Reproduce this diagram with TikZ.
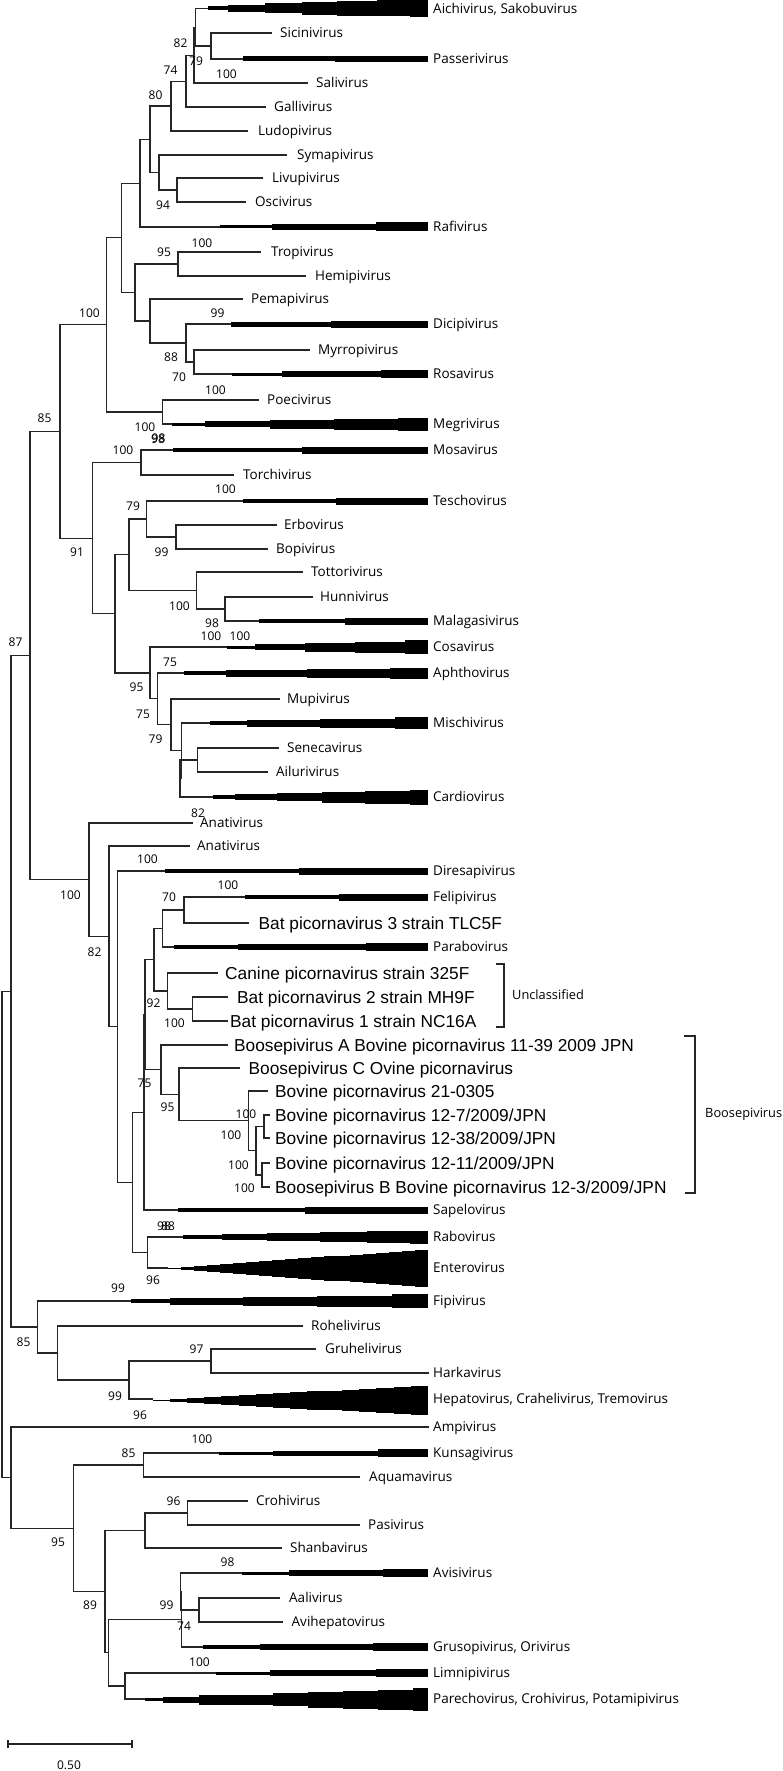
\documentclass[tikz,border=0pt]{standalone}
\usepackage{fontspec}
\usetikzlibrary{calc}
\newfontfamily\osans{Open Sans}
\newfontfamily\lsans{Liberation Sans}
\newcommand\labf{\osans\fontsize{13.5}{16}\selectfont}
\newcommand\numf{\osans\fontsize{12}{14}\selectfont}
\newcommand\bigf{\lsans\fontsize{17.3}{20}\selectfont}
\newcommand\grpf{\osans\fontsize{12.8}{15}\selectfont}
\begin{document}
\begin{tikzpicture}[x=1pt,y=-1pt,
  br/.style={line width=1.1pt,draw=black!85},
  lab/.style={font=\labf,inner sep=0pt,anchor=base west,yshift=-4.8pt},
  biglab/.style={font=\bigf,inner sep=0pt,anchor=base west,yshift=-6.2pt},
  grp/.style={font=\grpf,inner sep=0pt,anchor=west},
  bs/.style={font=\numf,inner sep=0pt},
  cl/.style={fill=black}]
\useasboundingbox[fill=white] (0,0) rectangle (782,1771);
\newcommand\mkleaf[5]{\coordinate (#1) at (#2,#3); \node[lab] (#1t) at (#4,#3) {#5};}
\newcommand\mkbig[5]{\coordinate (#1) at (#2,#3); \node[biglab] (#1t) at (#4,#3) {#5};}
\newcommand\mknode[4]{\path let \p1=(#3), \p2=(#4) in coordinate (#1) at ({#2pt},{0.5*\y1+0.5*\y2});
  \draw[br] (#1) |- (#3); \draw[br] (#1) |- (#4);}
\newcommand\bars[2]{\foreach \a/\b/\h in {#2} {\fill[cl] (\a,#1-\h) rectangle (\b+0.3,#1+\h);}}
\newcommand\stairs[5]{\foreach \i in {1,...,#5} {\fill[cl] ({#2+(\i-1)*(#3-#2)/#5},{#1-\i*#4/#5}) rectangle ({#2+\i*(#3-#2)/#5+0.3},{#1+\i*#4/#5});}}
% ---------- leaves ----------
\mkleaf{aichi}{208}{8.5}{433}{Aichivirus, Sakobuvirus}
\mkleaf{sicini}{272}{33}{280}{Sicinivirus}
\mkleaf{passeri}{243}{59}{433}{Passerivirus}
\mkleaf{sali}{308}{83}{316}{Salivirus}
\mkleaf{galli}{266}{107}{274}{Gallivirus}
\mkleaf{ludopi}{248}{131}{258}{Ludopivirus}
\mkleaf{syma}{287}{155}{297}{Symapivirus}
\mkleaf{livupi}{263}{178}{272}{Livupivirus}
\mkleaf{osci}{246}{202}{255}{Oscivirus}
\mkleaf{rafi}{220}{227}{433}{Rafivirus}
\mkleaf{tropi}{261}{252}{271}{Tropivirus}
\mkleaf{hemipi}{306}{276}{315}{Hemipivirus}
\mkleaf{pemapi}{243}{299}{251}{Pemapivirus}
\mkleaf{dicipi}{231}{324}{433}{Dicipivirus}
\mkleaf{myrro}{310}{350}{318}{Myrropivirus}
\mkleaf{rosa}{232}{374}{433}{Rosavirus}
\mkleaf{poeci}{258.5}{400}{267}{Poecivirus}
\mkleaf{megri}{172}{424}{433}{Megrivirus}
\mkleaf{mosa}{172.5}{450}{433}{Mosavirus}
\mkleaf{torchi}{234}{475}{243}{Torchivirus}
\mkleaf{tescho}{242.5}{501}{433}{Teschovirus}
\mkleaf{erbo}{276.5}{525}{284}{Erbovirus}
\mkleaf{bopi}{267.5}{549}{276}{Bopivirus}
\mkleaf{tottori}{302.5}{572}{311}{Tottorivirus}
\mkleaf{hunni}{312.5}{597}{320}{Hunnivirus}
\mkleaf{malaga}{258.5}{621}{433}{Malagasivirus}
\mkleaf{cosa}{227}{647}{433}{Cosavirus}
\mkleaf{aphtho}{184}{673}{433}{Aphthovirus}
\mkleaf{mupi}{280}{699}{287}{Mupivirus}
\mkleaf{mischi}{210}{723}{433}{Mischivirus}
\mkleaf{seneca}{278.5}{748}{287}{Senecavirus}
\mkleaf{ailuri}{267.5}{772}{276}{Ailurivirus}
\mkleaf{cardio}{212.5}{797}{433}{Cardiovirus}
\mkleaf{anatiA}{192.5}{823}{200}{Anativirus}
\mkleaf{anatiB}{190}{846}{197}{Anativirus}
\mkleaf{diresapi}{165}{871}{433}{Diresapivirus}
\mkleaf{felipi}{245}{897}{433}{Felipivirus}
\mkbig{batC}{249}{923}{258.5}{Bat picornavirus 3 strain TLC5F}
\mkleaf{parabo}{173.5}{947}{433}{Parabovirus}
\mkbig{canine}{217.5}{973}{225}{Canine picornavirus strain 325F}
\mkbig{batB}{227.5}{997}{237}{Bat picornavirus 2 strain MH9F}
\mkbig{batA}{227.5}{1021}{230}{Bat picornavirus 1 strain NC16A}
\mkbig{boosA}{227.5}{1045}{234}{Boosepivirus A Bovine picornavirus 11-39 2009 JPN}
\mkbig{boosC}{240}{1068}{248.5}{Boosepivirus C Ovine picornavirus}
\mkbig{bovA}{267.5}{1091}{275}{Bovine picornavirus 21-0305}
\mkbig{bovB}{270}{1115}{275}{Bovine picornavirus 12-7/2009/JPN}
\mkbig{bovC}{270}{1138}{275}{Bovine picornavirus 12-38/2009/JPN}
\mkbig{bovD}{270}{1163}{275}{Bovine picornavirus 12-11/2009/JPN}
\mkbig{boosB}{270}{1187}{275}{Boosepivirus B Bovine picornavirus 12-3/2009/JPN}
\mkleaf{sapelo}{177.5}{1210}{433}{Sapelovirus}
\mkleaf{rabo}{182.5}{1237}{433}{Rabovirus}
\mkleaf{entero}{167.5}{1268}{433}{Enterovirus}
\mkleaf{fipi}{131}{1301}{433}{Fipivirus}
\mkleaf{roheli}{302.5}{1326}{311}{Rohelivirus}
\mkleaf{gruheli}{316}{1349}{325}{Gruhelivirus}
\mkleaf{harka}{429}{1373}{433}{Harkavirus}
\mkleaf{hepato}{152.5}{1399}{433}{Hepatovirus, Crahelivirus, Tremovirus}
\mkleaf{ampi}{429}{1427}{433}{Ampivirus}
\mkleaf{kunsagi}{218.5}{1453}{433}{Kunsagivirus}
\mkleaf{aquama}{360}{1477}{369}{Aquamavirus}
\mkleaf{crohi}{247.5}{1501}{256}{Crohivirus}
\mkleaf{pasi}{360}{1525}{368}{Pasivirus}
\mkleaf{shanba}{281.5}{1548}{290}{Shanbavirus}
\mkleaf{avisi}{241.5}{1573}{433}{Avisivirus}
\mkleaf{aali}{280}{1598}{289}{Aalivirus}
\mkleaf{avihep}{282.5}{1622}{291.5}{Avihepatovirus}
\mkleaf{gruso}{202.5}{1647}{433}{Grusopivirus, Orivirus}
\mkleaf{limni}{216}{1673}{433}{Limnipivirus}
\mkleaf{parecho}{145}{1699}{433}{Parechovirus, Crohivirus, Potamipivirus}
% ---------- internal nodes ----------
\mknode{nSP}{211}{sicini}{passeri}
\mknode{nA}{195.5}{aichi}{nSP}
\mknode{nB}{194}{nA}{sali}
\mknode{nC}{186}{nB}{galli}
\mknode{nD}{171}{nC}{ludopi}
\mknode{nLO}{177}{livupi}{osci}
\mknode{nF}{159}{syma}{nLO}
\mknode{nG}{150}{nD}{nF}
\mknode{nH}{140}{nG}{rafi}
\mknode{nJ}{178}{tropi}{hemipi}
\mknode{nMR}{194}{myrro}{rosa}
\mknode{nK}{186}{dicipi}{nMR}
\mknode{nL}{150}{pemapi}{nK}
\mknode{nM}{135}{nJ}{nL}
\mknode{nI}{121.5}{nH}{nM}
\mknode{nO}{162.5}{poeci}{megri}
\mknode{nN}{106.5}{nI}{nO}
\mknode{nW}{141}{mosa}{torchi}
\mknode{nEB}{176}{erbo}{bopi}
\mknode{nY}{146.5}{tescho}{nEB}
\mknode{nHM}{225}{hunni}{malaga}
\mknode{nZ}{196.5}{tottori}{nHM}
\mknode{nAA}{129}{nY}{nZ}
\mknode{nSA}{197.5}{seneca}{ailuri}
\mknode{nADa}{180}{nSA}{cardio}
\mknode{nADb}{181.5}{mischi}{nADa}
\mknode{nAE}{171}{mupi}{nADb}
\mknode{nAF}{157.5}{aphtho}{nAE}
\mknode{nAG}{150}{cosa}{nAF}
\mknode{nX}{115}{nAA}{nAG}
\mknode{nQ}{92.5}{nW}{nX}
\mknode{nP}{60}{nN}{nQ}
\mknode{nFB}{184}{felipi}{batC}
\mknode{nAH}{162.5}{nFB}{parabo}
\mknode{nBB}{192.5}{batB}{batA}
\mknode{nAI}{167.5}{canine}{nBB}
\mknode{nAJ}{154}{nAH}{nAI}
\mknode{nVa}{264}{bovB}{bovC}
\mknode{nVb}{262}{bovD}{boosB}
\mknode{nVc}{256}{nVa}{nVb}
\mknode{nVd}{248.5}{bovA}{nVc}
\mknode{nVe}{179}{boosC}{nVd}
\mknode{nVf}{161}{boosA}{nVe}
\mknode{nAKa}{145}{nAJ}{nVf}
\mknode{nAKb}{144}{nAKa}{sapelo}
\mknode{nAM}{147.5}{rabo}{entero}
\mknode{nAL}{132.5}{nAKb}{nAM}
\mknode{nAN}{117.5}{diresapi}{nAL}
\mknode{nAO}{109}{anatiB}{nAN}
\mknode{nAP}{89}{anatiA}{nAO}
\mknode{nS}{30}{nP}{nAP}
\mknode{nGH}{211}{gruheli}{harka}
\mknode{nAQ}{129}{nGH}{hepato}
\mknode{nAR}{57.5}{roheli}{nAQ}
\mknode{nAS}{37.5}{fipi}{nAR}
\mknode{nT}{11}{nS}{nAS}
\mknode{nKA}{143.5}{kunsagi}{aquama}
\mknode{nCP}{187.5}{crohi}{pasi}
\mknode{nAT}{145}{nCP}{shanba}
\mknode{nAV}{199}{aali}{avihep}
\mknode{nAUa}{180.5}{avisi}{nAV}
\mknode{nAUb}{181.5}{nAUa}{gruso}
\mknode{nAW}{125}{limni}{parecho}
\mknode{nAVb}{108.5}{nAUb}{nAW}
\mknode{nAX}{105}{nAT}{nAVb}
\mknode{nAY}{73.5}{nKA}{nAX}
\mknode{nU}{11}{ampi}{nAY}
\mknode{root}{2}{nT}{nU}
% ---------- collapsed clades ----------
\bars{8.5}{208/228/2, 228/265/3.5, 265/302/5, 302/337/6.5, 337/377/7.2, 377/410/8, 410/428/8.5}
\bars{59}{243/335/2.5, 335/428/3.3}
\bars{227}{220/272/1.5, 272/376/2.8, 376/428/4.5}
\bars{324}{231/331/2.5, 331/428/3.5}
\bars{374}{232/282/1.5, 282/381/2.8, 381/428/4.2}
\bars{424}{172/205/1.5, 205/270/3, 270/334/4.5, 334/398/5.5, 398/428/6.5}
\bars{450}{172.5/302/2, 302/428/3.5}
\bars{501}{242.5/336/2, 336/428/3.5}
\bars{621}{258.5/345/2, 345/428/3.5}
\bars{647}{227/255/1.5, 255/305/3, 305/355/4.5, 355/405/5.5, 405/428/6.8}
\bars{673}{184/226/2, 226/307/3.5, 307/390/4.5, 390/428/5.5}
\bars{723}{210/247/2, 247/320/3.5, 320/395/4.5, 395/428/5.8}
\bars{797}{212.5/235/2, 235/277/3, 277/322/4, 322/365/5.5, 365/410/6.5, 410/428/7.5}
\bars{871}{165/298.5/2, 298.5/428/3.5}
\bars{897}{245/338.5/2, 338.5/428/3.5}
\bars{947}{173.5/237.5/2, 237.5/366/3, 366/428/4}
\bars{1210}{177.5/305/2, 305/428/3.5}
\bars{1237}{182.5/222/2, 222/267/3, 267/320/4, 320/367/5, 367/410/6, 410/428/6.5}
\stairs{1268.5}{167.5}{428}{18.5}{20}
\bars{1301}{131/170/2, 170/243/3.5, 243/317/4.5, 317/392/5.5, 392/428/6.8}
\stairs{1400.5}{152.5}{428}{14.5}{16}
\bars{1453}{218.5/272.5/1.5, 272.5/377.5/2.5, 377.5/428/4}
\bars{1573}{241.5/289/1.5, 289/382.5/3, 382.5/428/4}
\bars{1647}{202.5/260/2, 260/372.5/3, 372.5/428/4}
\bars{1673}{216/270/1.5, 270/376/3, 376/428/4}
\bars{1699.5}{145/162.5/1.5, 162.5/199/3, 199/272.5/5, 272.5/307.5/6.5, 307.5/342.5/8, 342.5/377.5/9, 377.5/412.5/10, 412.5/428/11.5}
% ---------- bootstrap values ----------
\node[bs] (s1) at (180.5,43) {82};
\node[bs] (s2) at (196,61) {79};
\node[bs] (s3) at (226.5,74) {100};
\node[bs] (s4) at (170.5,70) {74};
\node[bs] (s5) at (155.5,95) {80};
\node[bs] (s6) at (163,205) {94};
\node[bs] (s7) at (202,243) {100};
\node[bs] (s8) at (164,252) {95};
\node[bs] (s9) at (217.5,313) {99};
\node[bs] (s10) at (171,357) {88};
\node[bs] (s11) at (179,377) {70};
\node[bs] (s12) at (89.5,313) {100};
\node[bs] (s13) at (215.5,390) {100};
\node[bs] (s14) at (145,427) {100};
\node[bs] (s15) at (158,439) {98};
\node[bs] (s15b) at (158.6,438.4) {98};
\node[bs] (s16) at (44.5,418) {85};
\node[bs] (s17) at (123,450) {100};
\node[bs] (s18) at (225.5,489) {100};
\node[bs] (s19) at (133,506) {79};
\node[bs] (s20) at (77,552) {91};
\node[bs] (s21) at (161.5,552) {99};
\node[bs] (s22) at (179.5,606) {100};
\node[bs] (s23) at (212,623) {98};
\node[bs] (s24) at (15.5,642) {87};
\node[bs] (s25) at (211,636) {100};
\node[bs] (s26) at (240,636) {100};
\node[bs] (s27) at (170,662) {75};
\node[bs] (s28) at (136.5,687) {95};
\node[bs] (s29) at (143,714) {75};
\node[bs] (s30) at (155.5,739) {79};
\node[bs] (s31) at (198,813) {82};
\node[bs] (s32) at (147.5,859) {100};
\node[bs] (s33) at (228,885) {100};
\node[bs] (s34) at (169,897) {70};
\node[bs] (s35) at (70.5,895) {100};
\node[bs] (s36) at (94.5,952) {82};
\node[bs] (s37) at (153.5,1003) {92};
\node[bs] (s38) at (174.5,1023) {100};
\node[bs] (s39) at (144.5,1083) {75};
\node[bs] (s40) at (167.5,1107) {95};
\node[bs] (s41) at (246,1114) {100};
\node[bs] (s42) at (231,1135) {100};
\node[bs] (s43) at (238.5,1165) {100};
\node[bs] (s44) at (244.5,1188) {100};
\node[bs] (s45) at (164,1226) {98};
\node[bs] (s45b) at (168,1226) {88};
\node[bs] (s46) at (153,1280) {96};
\node[bs] (s47) at (118,1288) {99};
\node[bs] (s48) at (23.5,1342) {85};
\node[bs] (s49) at (196.5,1349) {97};
\node[bs] (s50) at (115,1396) {99};
\node[bs] (s51) at (140,1415) {96};
\node[bs] (s52) at (202,1439) {100};
\node[bs] (s53) at (128.5,1453) {85};
\node[bs] (s54) at (173.5,1501) {96};
\node[bs] (s55) at (58,1542) {95};
\node[bs] (s56) at (227.5,1562) {98};
\node[bs] (s57) at (166.5,1605) {99};
\node[bs] (s58) at (90,1605) {89};
\node[bs] (s59) at (184,1626) {74};
\node[bs] (s60) at (199.5,1662) {100};
% ---------- group brackets ----------
\coordinate (u1) at (496,964); \coordinate (u2) at (504,964);
\coordinate (u3) at (504,1027); \coordinate (u4) at (496,1027);
\draw[br] (u1) -- (u2) -- (u3) -- (u4);
\node[grp] (unc) at (512,995) {Unclassified};
\coordinate (g1) at (684,1036); \coordinate (g2) at (695,1036);
\coordinate (g3) at (695,1193); \coordinate (g4) at (685,1193);
\draw[br] (g1) -- (g2) -- (g3) -- (g4);
\node[grp] (boo) at (705,1114) {Boosepivirus};
% ---------- scale bar ----------
\coordinate (sb1) at (8,1744); \coordinate (sb2) at (132,1744);
\draw[br] (sb1) -- (sb2);
\draw[br] ([yshift=4pt]sb1) -- ([yshift=-4pt]sb1);
\draw[br] ([yshift=4pt]sb2) -- ([yshift=-4pt]sb2);
\node[bs] (sbl) at (69,1765) {0.50};
\end{tikzpicture}
\end{document}
